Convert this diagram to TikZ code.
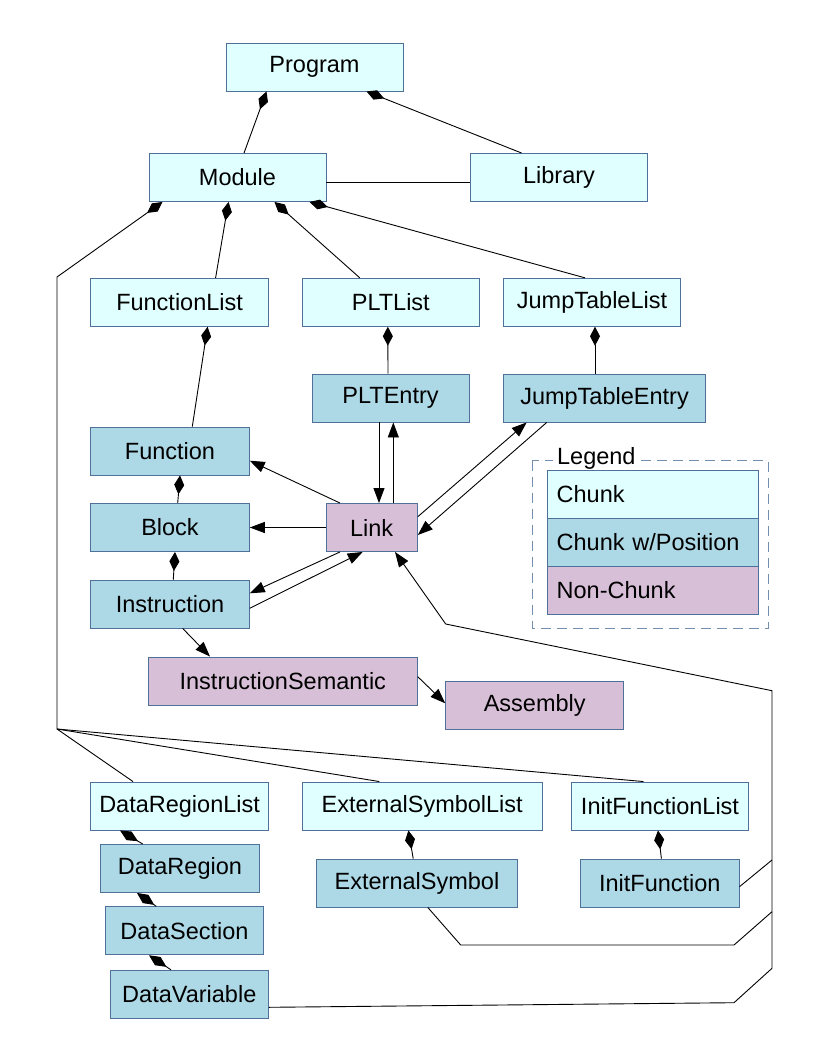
\documentclass[tikz,border=0pt]{standalone}
\usepackage{tikz}
\usetikzlibrary{arrows.meta}
\usepackage{fontspec}
\setmainfont{Liberation Sans}
\usepackage{xcolor}
\definecolor{boxline}{HTML}{4F7098}
\definecolor{chunkfill}{HTML}{E0FFFF}
\definecolor{posfill}{HTML}{ADD8E6}
\definecolor{nonfill}{HTML}{D8BFD8}

\begin{document}
\begin{tikzpicture}[x=1pt, y=-1pt, line width=0.9pt,
	box/.style={draw=boxline, line width=0.9pt, minimum height=48pt, inner sep=0pt, font=\fontsize{23.5}{27}\selectfont},
	chunk/.style={box, fill=chunkfill},
	poschunk/.style={box, fill=posfill},
	nonchunk/.style={box, fill=nonfill},
	owns/.style={{Diamond[length=19pt,width=10pt]}-},
	refers/.style={-{Triangle[length=15pt,width=11pt]}},
	legrow/.style={box, minimum width=211.3pt, text width=192pt, inner xsep=9.7pt, align=left}]
	\useasboundingbox (0,0) rectangle (816,1056);
	\node [chunk, minimum width=177pt] (prog) at (314.5,67) {Program};
	\node [chunk, minimum width=177pt] (mod) at (237.5,177.5) {Module};
	\node [chunk, minimum width=177pt] (lib) at (559,177.5) {Library};
	\node [chunk, minimum width=178pt] (funclist) at (179.6,302.3) {FunctionList};
	\node [chunk, minimum width=177.6pt] (pltlist) at (390.8,302.3) {PLTList};
	\node [chunk, minimum width=177pt] (jtlist) at (592,302.3) {JumpTableList};
	\node [poschunk, minimum width=157pt] (pltentry) at (390.5,398) {PLTEntry};
	\node [poschunk, minimum width=201.6pt] (jtentry) at (604.5,398) {JumpTableEntry};
	\node [poschunk, minimum width=158.6pt] (func) at (170,451) {Function};
	\node [poschunk, minimum width=158.6pt] (block) at (170,527.5) {Block};
	\node [poschunk, minimum width=158.6pt] (instr) at (170,604) {Instruction};
	\node [nonchunk, minimum width=91.3pt] (link) at (371.7,527.5) {Link};
	\node [nonchunk, minimum width=269pt] (isem) at (282.8,681) {InstructionSemantic};
	\node [nonchunk, minimum width=178pt] (asm) at (534.7,705) {Assembly};
	\node [chunk, minimum width=177.4pt] (drlist) at (179.6,806) {DataRegionList};
	\node [chunk, minimum width=240pt] (eslist) at (422.2,806) {ExternalSymbolList};
	\node [chunk, minimum width=177.4pt] (iflist) at (660,806) {InitFunctionList};
	\node [poschunk, minimum width=158.5pt] (dregion) at (179.9,868.5) {DataRegion};
	\node [poschunk, minimum width=201.7pt] (esym) at (417,883) {ExternalSymbol};
	\node [poschunk, minimum width=158.5pt] (ifunc) at (659.8,883) {InitFunction};
	\node [poschunk, minimum width=158pt] (dsection) at (184.5,930.8) {DataSection};
	\node [poschunk, minimum width=158pt] (dvar) at (189.3,994.3) {DataVariable};
	\draw [owns] ([xshift=-48pt]prog.south) -- ([xshift=6.5pt]mod.north);
	\draw [owns] ([xshift=52pt]prog.south) -- ([xshift=-37.4pt]lib.north);
	\draw ([yshift=-4.8pt]mod.east) -- ([yshift=-4.8pt]lib.west);
	\draw [owns] ([xshift=-9pt]mod.south) -- ([xshift=36pt]funclist.north);
	\draw [owns] ([xshift=37pt]mod.south) -- ([xshift=-31pt]pltlist.north);
	\draw [owns] ([xshift=72pt]mod.south) -- ([xshift=-7pt]jtlist.north);
	\draw [owns] ([xshift=28pt]funclist.south) -- ([xshift=22.3pt]func.north);
	\draw [owns] ([xshift=-3pt]pltlist.south) -- ([xshift=-2.5pt]pltentry.north);
	\draw [owns] ([xshift=3pt]jtlist.south) -- ([xshift=-9.5pt]jtentry.north);
	\draw [owns] ([xshift=10pt]func.south) -- ([xshift=7.7pt]block.north);
	\draw [owns] ([xshift=5pt]block.south) -- ([xshift=3.3pt]instr.north);
	\draw [refers] ([xshift=-11.5pt]pltentry.south) -- ([xshift=7.3pt]link.north);
	\draw [refers] ([xshift=21.6pt]link.north) -- ([xshift=2.8pt]pltentry.south);
	\draw [refers] ([xshift=-31.7pt]link.north) -- ([yshift=-9.7pt]func.east);
	\draw [refers] (link.west) -- (block.east);
	\draw [refers] ([xshift=-31.7pt]link.south) -- ([yshift=10.7pt]instr.east);
	\draw [refers] ([yshift=-4.3pt]instr.east) -- ([xshift=-9pt]link.south);
	\draw [refers] ([yshift=10.8pt]link.east) -- ([xshift=-77.8pt]jtentry.south);
	\draw [refers] ([xshift=-57.8pt]jtentry.south) -- ([yshift=-7.5pt]link.east);
	\draw [refers] ([xshift=12.7pt]instr.south) -- ([xshift=-72.8pt]isem.north);
	\draw [refers] ([yshift=4.3pt]isem.east) -- ([yshift=1.7pt]asm.west);
	\coordinate (fan) at (57,729);
	\draw [owns] ([xshift=-75pt]mod.south) -- (57,277) -- (fan);
	\draw (fan) -- ([xshift=-46.6pt]drlist.north);
	\draw (fan) -- ([xshift=-42.9pt]eslist.north);
	\draw (fan) -- ([xshift=-16.5pt]iflist.north);
	\draw [{Diamond[length=21pt,width=10pt]}-] ([xshift=-59.6pt]drlist.south) -- ([xshift=-37.1pt]dregion.north);
	\draw [{Diamond[length=21pt,width=10pt]}-] ([xshift=-42.9pt]dregion.south) -- ([xshift=-28.2pt]dsection.north);
	\draw [{Diamond[length=21pt,width=10pt]}-] ([xshift=-35.5pt]dsection.south) -- ([xshift=-18.3pt]dvar.north);
	\draw [owns] ([xshift=-13.8pt]eslist.south) -- ([xshift=-3.8pt]esym.north);
	\draw [owns] ([xshift=-2pt]iflist.south) -- ([xshift=1.6pt]ifunc.north);
	\coordinate (railtop) at (772,690.7);
	\coordinate (railend) at (772,968.3);
	\draw [refers] ([yshift=-13pt]dvar.east) -- (734,1002.7) -- (railend) -- (railtop) -- (445.7,624) -- ([xshift=23.3pt]link.south);
	\draw ([yshift=-3.7pt]ifunc.east) -- (772,860);
	\draw ([xshift=10.8pt]esym.south) -- (460.7,945) -- (734,945) -- (772,911.7);
	\draw [boxline!80, dash pattern=on 10pt off 6pt] (532.3,460.7) rectangle (768,628.3);
	\node [legrow, fill=chunkfill] (legchunk) at (652.7,494.3) {Chunk};
	\node [legrow, fill=posfill] (legpos) at (652.7,542.5) {Chunk w/Position};
	\node [legrow, fill=nonfill] (legnon) at (652.7,590.5) {Non-Chunk};
	\node [fill=white, inner xsep=4pt, inner ysep=1pt, anchor=west, font=\fontsize{23.5}{27}\selectfont] (legtitle) at (552.7,458) {Legend};
\end{tikzpicture}
\end{document}
